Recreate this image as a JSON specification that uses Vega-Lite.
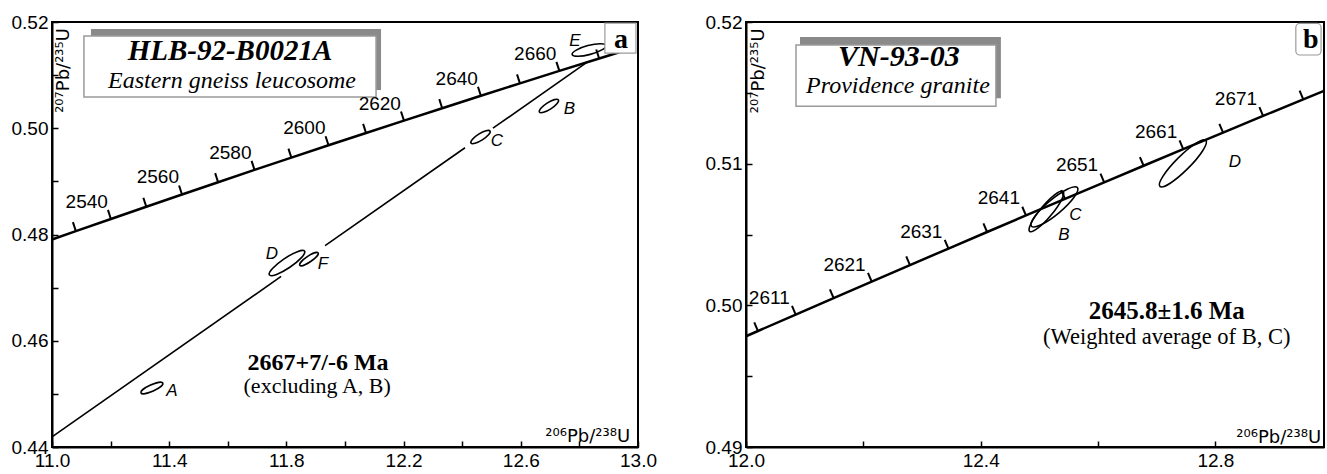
{
  "$schema": "https://vega.github.io/schema/vega-lite/v6.json",
  "background": "white",
  "padding": {"left": 10, "top": 12, "right": 0, "bottom": 0},
  "spacing": 46,
  "config": {
    "view": {"stroke": "black", "strokeWidth": 2},
    "axis": {
      "domainColor": "black", "domainWidth": 2,
      "tickColor": "black", "tickWidth": 1.5, "tickSize": -6,
      "labelFont": "Liberation Sans", "labelFontSize": 19, "labelColor": "black",
      "labelPadding": 10, "grid": false
    }
  },
  "datasets": {
    "conc_a": [
      {"t": 2523.1, "x": 11.0, "y": 0.479052, "tick": false, "lab": ""},
      {"t": 2530, "x": 11.0814, "y": 0.480628, "tick": true, "lab": ""},
      {"t": 2540, "x": 11.2010, "y": 0.482926, "tick": true, "lab": "2540"},
      {"t": 2550, "x": 11.3218, "y": 0.485229, "tick": true, "lab": ""},
      {"t": 2560, "x": 11.4437, "y": 0.487534, "tick": true, "lab": "2560"},
      {"t": 2570, "x": 11.5669, "y": 0.489844, "tick": true, "lab": ""},
      {"t": 2580, "x": 11.6912, "y": 0.492157, "tick": true, "lab": "2580"},
      {"t": 2590, "x": 11.8169, "y": 0.494473, "tick": true, "lab": ""},
      {"t": 2600, "x": 11.9437, "y": 0.496793, "tick": true, "lab": "2600"},
      {"t": 2610, "x": 12.0718, "y": 0.499117, "tick": true, "lab": ""},
      {"t": 2620, "x": 12.2012, "y": 0.501444, "tick": true, "lab": "2620"},
      {"t": 2630, "x": 12.3318, "y": 0.503775, "tick": true, "lab": ""},
      {"t": 2640, "x": 12.4638, "y": 0.506110, "tick": true, "lab": "2640"},
      {"t": 2650, "x": 12.5971, "y": 0.508448, "tick": true, "lab": ""},
      {"t": 2660, "x": 12.7316, "y": 0.510790, "tick": true, "lab": "2660"},
      {"t": 2670, "x": 12.8675, "y": 0.513135, "tick": true, "lab": ""},
      {"t": 2675, "x": 12.9360, "y": 0.514309, "tick": false, "lab": ""}
    ],
    "conc_b": [
      {"t": 2604.4, "x": 12.0, "y": 0.497817, "tick": false, "lab": ""},
      {"t": 2606, "x": 12.0204, "y": 0.498187, "tick": true, "lab": ""},
      {"t": 2611, "x": 12.0847, "y": 0.499350, "tick": true, "lab": "2611"},
      {"t": 2616, "x": 12.1493, "y": 0.500513, "tick": true, "lab": ""},
      {"t": 2621, "x": 12.2142, "y": 0.501677, "tick": true, "lab": "2621"},
      {"t": 2626, "x": 12.2794, "y": 0.502842, "tick": true, "lab": ""},
      {"t": 2631, "x": 12.3450, "y": 0.504009, "tick": true, "lab": "2631"},
      {"t": 2636, "x": 12.4109, "y": 0.505176, "tick": true, "lab": ""},
      {"t": 2641, "x": 12.4771, "y": 0.506343, "tick": true, "lab": "2641"},
      {"t": 2646, "x": 12.5436, "y": 0.507512, "tick": true, "lab": ""},
      {"t": 2651, "x": 12.6104, "y": 0.508682, "tick": true, "lab": "2651"},
      {"t": 2656, "x": 12.6776, "y": 0.509853, "tick": true, "lab": ""},
      {"t": 2661, "x": 12.7451, "y": 0.511024, "tick": true, "lab": "2661"},
      {"t": 2666, "x": 12.8130, "y": 0.512197, "tick": true, "lab": ""},
      {"t": 2671, "x": 12.8812, "y": 0.513370, "tick": true, "lab": "2671"},
      {"t": 2676, "x": 12.9497, "y": 0.514544, "tick": true, "lab": ""},
      {"t": 2678.56, "x": 12.985, "y": 0.515144, "tick": false, "lab": ""}
    ],
    "disc_a": [
      {"seg": 1, "x": 11.0, "y": 0.44190},
      {"seg": 1, "x": 11.782, "y": 0.47210},
      {"seg": 2, "x": 11.932, "y": 0.47789},
      {"seg": 2, "x": 12.4096, "y": 0.49633},
      {"seg": 3, "x": 12.505, "y": 0.50001},
      {"seg": 3, "x": 12.8266, "y": 0.512431}
    ],
    "ell_a": [
      {"id": "A", "x": 11.341, "y": 0.4511},
      {"id": "B", "x": 12.696, "y": 0.50419},
      {"id": "C", "x": 12.4625, "y": 0.49835},
      {"id": "D", "x": 11.802, "y": 0.47463},
      {"id": "E", "x": 12.833, "y": 0.51473},
      {"id": "F", "x": 11.877, "y": 0.47538}
    ],
    "ell_b": [
      {"id": "B", "x": 12.5119, "y": 0.50663},
      {"id": "C", "x": 12.5256, "y": 0.50695},
      {"id": "D", "x": 12.7445, "y": 0.51002}
    ],
    "elab_a": [
      {"text": "A", "x": 11.4096, "y": 0.45053},
      {"text": "B", "x": 12.766, "y": 0.50353},
      {"text": "C", "x": 12.5188, "y": 0.49769},
      {"text": "D", "x": 11.7509, "y": 0.47633},
      {"text": "E", "x": 12.785, "y": 0.51642},
      {"text": "F", "x": 11.925, "y": 0.47444}
    ],
    "elab_b": [
      {"text": "B", "x": 12.5417, "y": 0.50500},
      {"text": "C", "x": 12.5613, "y": 0.50638},
      {"text": "D", "x": 12.833, "y": 0.51013}
    ],
    "box_a": [
      {"role": "shadow", "x": 11.133, "x2": 12.123, "y": 0.51868, "y2": 0.50720},
      {"role": "box", "x": 11.109, "x2": 12.106, "y": 0.51736, "y2": 0.50588},
      {"role": "panel", "x": 12.887, "x2": 12.993, "y": 0.5198, "y2": 0.51416}
    ],
    "box_b": [
      {"role": "shadow", "x": 12.0920, "x2": 12.4344, "y": 0.51894, "y2": 0.51462},
      {"role": "box", "x": 12.0852, "x2": 12.4259, "y": 0.51837, "y2": 0.51406},
      {"role": "panel", "x": 12.937, "x2": 12.980, "y": 0.5199, "y2": 0.51767}
    ],
    "txt_a": [
      {"role": "title", "text": "HLB-92-B0021A", "x": 11.6075, "y": 0.51285},
      {"role": "subtitle", "text": "Eastern gneiss leucosome", "x": 11.6143, "y": 0.50758},
      {"role": "age", "text": "2667+7/-6 Ma", "x": 11.908, "y": 0.45449},
      {"role": "note", "text": "(excluding A, B)", "x": 11.905, "y": 0.45016},
      {"role": "panel", "text": "a", "x": 12.942, "y": 0.51511},
      {"role": "ylab", "text": "²⁰⁷Pb/²³⁵U", "x": 11.01, "y": 0.5029},
      {"role": "xlab", "text": "²⁰⁶Pb/²³⁸U", "x": 12.973, "y": 0.4410}
    ],
    "txt_b": [
      {"role": "title", "text": "VN-93-03", "x": 12.2606, "y": 0.51689},
      {"role": "subtitle", "text": "Providence granite", "x": 12.2589, "y": 0.51498},
      {"role": "age", "text": "2645.8±1.6 Ma", "x": 12.717, "y": 0.49906},
      {"role": "note", "text": "(Weighted average of B, C)", "x": 12.717, "y": 0.49729},
      {"role": "panel", "text": "b", "x": 12.9625, "y": 0.51816},
      {"role": "ylab", "text": "²⁰⁷Pb/²³⁵U", "x": 12.0068, "y": 0.51356},
      {"role": "xlab", "text": "²⁰⁶Pb/²³⁸U", "x": 12.98, "y": 0.49028}
    ]
  },
  "hconcat": [
    {
      "width": 586,
      "height": 425,
      "encoding": {
        "x": {"field": "x", "type": "quantitative",
          "scale": {"domain": [11, 13], "nice": false, "zero": false},
          "axis": {"title": null, "values": [11, 11.2, 11.4, 11.6, 11.8, 12, 12.2, 12.4, 12.6, 12.8, 13],
            "labelExpr": "round(datum.value*5) % 2 == 1 ? format(datum.value, '.1f') : ''",
            "labelFlush": false, "labelOverlap": false}},
        "y": {"field": "y", "type": "quantitative",
          "scale": {"domain": [0.44, 0.52], "nice": false, "zero": false},
          "axis": {"title": null, "values": [0.44, 0.45, 0.46, 0.47, 0.48, 0.49, 0.5, 0.51, 0.52],
            "labelExpr": "round(datum.value*100) % 2 == 0 ? format(datum.value, '.2f') : ''",
            "labelFlush": false, "labelOverlap": false}}
      },
      "layer": [
        {"data": {"name": "box_a"}, "transform": [{"filter": "datum.role == 'shadow'"}],
         "mark": {"type": "rect", "fill": "#8a8a8a"},
         "encoding": {"x2": {"field": "x2"}, "y2": {"field": "y2"}}},
        {"data": {"name": "box_a"}, "transform": [{"filter": "datum.role == 'box'"}],
         "mark": {"type": "rect", "fill": "white", "stroke": "#9a9a9a", "strokeWidth": 1.5},
         "encoding": {"x2": {"field": "x2"}, "y2": {"field": "y2"}}},
        {"data": {"name": "txt_a"}, "transform": [{"filter": "datum.role == 'title'"}],
         "mark": {"type": "text", "font": "Liberation Serif", "fontSize": 29, "fontStyle": "italic", "fontWeight": "bold", "align": "center", "baseline": "alphabetic", "color": "black"},
         "encoding": {"text": {"field": "text"}}},
        {"data": {"name": "txt_a"}, "transform": [{"filter": "datum.role == 'subtitle'"}],
         "mark": {"type": "text", "font": "Liberation Serif", "fontSize": 24, "fontStyle": "italic", "align": "center", "baseline": "alphabetic", "color": "black"},
         "encoding": {"text": {"field": "text"}}},
        {"data": {"name": "conc_a"},
         "mark": {"type": "line", "color": "black", "strokeWidth": 2.5},
         "encoding": {"order": {"field": "t", "type": "quantitative"}}},
        {"data": {"name": "disc_a"},
         "mark": {"type": "line", "color": "black", "strokeWidth": 1.6},
         "encoding": {"detail": {"field": "seg", "type": "nominal"}}},
        {"data": {"name": "conc_a"}, "transform": [{"filter": "datum.tick"}],
         "mark": {"type": "point", "shape": "M0,0L0,-2", "size": 90, "angle": 342, "filled": false, "stroke": "black", "strokeWidth": 2, "opacity": 1}},
        {"data": {"name": "conc_a"}, "transform": [{"filter": "datum.lab != ''"}],
         "mark": {"type": "text", "font": "Liberation Sans", "fontSize": 19, "align": "right", "baseline": "alphabetic", "dx": -3, "dy": -11, "color": "black"},
         "encoding": {"text": {"field": "lab"}}},
        {"data": {"name": "ell_a"}, "transform": [{"filter": "datum.id == 'A'"}],
         "mark": {"type": "point", "shape": "M-1,0A1,0.27,0,1,1,1,0A1,0.27,0,1,1,-1,0Z", "size": 576, "angle": 336, "filled": false, "stroke": "black", "strokeWidth": 1.6, "opacity": 1}},
        {"data": {"name": "ell_a"}, "transform": [{"filter": "datum.id == 'B'"}],
         "mark": {"type": "point", "shape": "M-1,0A1,0.3,0,1,1,1,0A1,0.3,0,1,1,-1,0Z", "size": 510, "angle": 327, "filled": false, "stroke": "black", "strokeWidth": 1.6, "opacity": 1}},
        {"data": {"name": "ell_a"}, "transform": [{"filter": "datum.id == 'C'"}],
         "mark": {"type": "point", "shape": "M-1,0A1,0.3,0,1,1,1,0A1,0.3,0,1,1,-1,0Z", "size": 506, "angle": 328, "filled": false, "stroke": "black", "strokeWidth": 1.6, "opacity": 1}},
        {"data": {"name": "ell_a"}, "transform": [{"filter": "datum.id == 'D'"}],
         "mark": {"type": "point", "shape": "M-1,0A1,0.24,0,1,1,1,0A1,0.24,0,1,1,-1,0Z", "size": 1806, "angle": 326, "filled": false, "stroke": "black", "strokeWidth": 1.6, "opacity": 1}},
        {"data": {"name": "ell_a"}, "transform": [{"filter": "datum.id == 'E'"}],
         "mark": {"type": "point", "shape": "M-1,0A1,0.26,0,1,1,1,0A1,0.26,0,1,1,-1,0Z", "size": 1225, "angle": 345, "filled": false, "stroke": "black", "strokeWidth": 1.6, "opacity": 1}},
        {"data": {"name": "ell_a"}, "transform": [{"filter": "datum.id == 'F'"}],
         "mark": {"type": "point", "shape": "M-1,0A1,0.27,0,1,1,1,0A1,0.27,0,1,1,-1,0Z", "size": 484, "angle": 326, "filled": false, "stroke": "black", "strokeWidth": 1.6, "opacity": 1}},
        {"data": {"name": "elab_a"},
         "mark": {"type": "text", "font": "Liberation Sans", "fontSize": 17, "fontStyle": "italic", "align": "center", "baseline": "middle", "color": "black"},
         "encoding": {"text": {"field": "text"}}},
        {"data": {"name": "txt_a"}, "transform": [{"filter": "datum.role == 'age'"}],
         "mark": {"type": "text", "font": "Liberation Serif", "fontSize": 24, "fontWeight": "bold", "align": "center", "baseline": "alphabetic", "color": "black"},
         "encoding": {"text": {"field": "text"}}},
        {"data": {"name": "txt_a"}, "transform": [{"filter": "datum.role == 'note'"}],
         "mark": {"type": "text", "font": "Liberation Serif", "fontSize": 22, "align": "center", "baseline": "alphabetic", "color": "black"},
         "encoding": {"text": {"field": "text"}}},
        {"data": {"name": "txt_a"}, "transform": [{"filter": "datum.role == 'ylab'"}],
         "mark": {"type": "text", "font": "DejaVu Sans", "fontSize": 18, "angle": 270, "align": "left", "baseline": "top", "color": "black"},
         "encoding": {"text": {"field": "text"}}},
        {"data": {"name": "txt_a"}, "transform": [{"filter": "datum.role == 'xlab'"}],
         "mark": {"type": "text", "font": "DejaVu Sans", "fontSize": 18, "align": "right", "baseline": "alphabetic", "color": "black"},
         "encoding": {"text": {"field": "text"}}},
        {"data": {"name": "box_a"}, "transform": [{"filter": "datum.role == 'panel'"}],
         "mark": {"type": "rect", "fill": "white", "stroke": "#9a9a9a", "strokeWidth": 1.2},
         "encoding": {"x2": {"field": "x2"}, "y2": {"field": "y2"}}},
        {"data": {"name": "txt_a"}, "transform": [{"filter": "datum.role == 'panel'"}],
         "mark": {"type": "text", "font": "Liberation Serif", "fontSize": 28, "fontWeight": "bold", "align": "center", "baseline": "alphabetic", "color": "black"},
         "encoding": {"text": {"field": "text"}}}
      ]
    },
    {
      "width": 578,
      "height": 425,
      "encoding": {
        "x": {"field": "x", "type": "quantitative",
          "scale": {"domain": [12, 12.985], "nice": false, "zero": false},
          "axis": {"title": null, "values": [12, 12.2, 12.4, 12.6, 12.8],
            "labelExpr": "round(datum.value*5) % 2 == 0 ? format(datum.value, '.1f') : ''",
            "labelFlush": false, "labelOverlap": false}},
        "y": {"field": "y", "type": "quantitative",
          "scale": {"domain": [0.49, 0.52], "nice": false, "zero": false},
          "axis": {"title": null, "values": [0.49, 0.495, 0.5, 0.505, 0.51, 0.515, 0.52],
            "labelExpr": "round(datum.value*200) % 2 == 0 ? format(datum.value, '.2f') : ''",
            "labelFlush": false, "labelOverlap": false}}
      },
      "layer": [
        {"data": {"name": "box_b"}, "transform": [{"filter": "datum.role == 'shadow'"}],
         "mark": {"type": "rect", "fill": "#8a8a8a"},
         "encoding": {"x2": {"field": "x2"}, "y2": {"field": "y2"}}},
        {"data": {"name": "box_b"}, "transform": [{"filter": "datum.role == 'box'"}],
         "mark": {"type": "rect", "fill": "white", "stroke": "#9a9a9a", "strokeWidth": 1.5},
         "encoding": {"x2": {"field": "x2"}, "y2": {"field": "y2"}}},
        {"data": {"name": "txt_b"}, "transform": [{"filter": "datum.role == 'title'"}],
         "mark": {"type": "text", "font": "Liberation Serif", "fontSize": 30, "fontStyle": "italic", "fontWeight": "bold", "align": "center", "baseline": "alphabetic", "color": "black"},
         "encoding": {"text": {"field": "text"}}},
        {"data": {"name": "txt_b"}, "transform": [{"filter": "datum.role == 'subtitle'"}],
         "mark": {"type": "text", "font": "Liberation Serif", "fontSize": 24, "fontStyle": "italic", "align": "center", "baseline": "alphabetic", "color": "black"},
         "encoding": {"text": {"field": "text"}}},
        {"data": {"name": "conc_b"},
         "mark": {"type": "line", "color": "black", "strokeWidth": 2.5},
         "encoding": {"order": {"field": "t", "type": "quantitative"}}},
        {"data": {"name": "conc_b"}, "transform": [{"filter": "datum.tick"}],
         "mark": {"type": "point", "shape": "M0,0L0,-2", "size": 90, "angle": 337, "filled": false, "stroke": "black", "strokeWidth": 2, "opacity": 1}},
        {"data": {"name": "conc_b"}, "transform": [{"filter": "datum.lab != ''"}],
         "mark": {"type": "text", "font": "Liberation Sans", "fontSize": 19, "align": "right", "baseline": "alphabetic", "dx": -6, "dy": -11, "color": "black"},
         "encoding": {"text": {"field": "lab"}}},
        {"data": {"name": "ell_b"}, "transform": [{"filter": "datum.id == 'B'"}],
         "mark": {"type": "point", "shape": "M-1,0A1,0.23,0,1,1,1,0A1,0.23,0,1,1,-1,0Z", "size": 2704, "angle": 310, "filled": false, "stroke": "black", "strokeWidth": 1.6, "opacity": 1}},
        {"data": {"name": "ell_b"}, "transform": [{"filter": "datum.id == 'C'"}],
         "mark": {"type": "point", "shape": "M-1,0A1,0.25,0,1,1,1,0A1,0.25,0,1,1,-1,0Z", "size": 3600, "angle": 320, "filled": false, "stroke": "black", "strokeWidth": 1.6, "opacity": 1}},
        {"data": {"name": "ell_b"}, "transform": [{"filter": "datum.id == 'D'"}],
         "mark": {"type": "point", "shape": "M-1,0A1,0.22,0,1,1,1,0A1,0.22,0,1,1,-1,0Z", "size": 4225, "angle": 315, "filled": false, "stroke": "black", "strokeWidth": 1.6, "opacity": 1}},
        {"data": {"name": "elab_b"},
         "mark": {"type": "text", "font": "Liberation Sans", "fontSize": 17, "fontStyle": "italic", "align": "center", "baseline": "middle", "color": "black"},
         "encoding": {"text": {"field": "text"}}},
        {"data": {"name": "txt_b"}, "transform": [{"filter": "datum.role == 'age'"}],
         "mark": {"type": "text", "font": "Liberation Serif", "fontSize": 25, "fontWeight": "bold", "align": "center", "baseline": "alphabetic", "color": "black"},
         "encoding": {"text": {"field": "text"}}},
        {"data": {"name": "txt_b"}, "transform": [{"filter": "datum.role == 'note'"}],
         "mark": {"type": "text", "font": "Liberation Serif", "fontSize": 22.5, "align": "center", "baseline": "alphabetic", "color": "black"},
         "encoding": {"text": {"field": "text"}}},
        {"data": {"name": "txt_b"}, "transform": [{"filter": "datum.role == 'ylab'"}],
         "mark": {"type": "text", "font": "DejaVu Sans", "fontSize": 18, "angle": 270, "align": "left", "baseline": "top", "color": "black"},
         "encoding": {"text": {"field": "text"}}},
        {"data": {"name": "txt_b"}, "transform": [{"filter": "datum.role == 'xlab'"}],
         "mark": {"type": "text", "font": "DejaVu Sans", "fontSize": 18, "align": "right", "baseline": "alphabetic", "color": "black"},
         "encoding": {"text": {"field": "text"}}},
        {"data": {"name": "box_b"}, "transform": [{"filter": "datum.role == 'panel'"}],
         "mark": {"type": "rect", "fill": "white", "stroke": "#9a9a9a", "strokeWidth": 1.2, "cornerRadius": 4},
         "encoding": {"x2": {"field": "x2"}, "y2": {"field": "y2"}}},
        {"data": {"name": "txt_b"}, "transform": [{"filter": "datum.role == 'panel'"}],
         "mark": {"type": "text", "font": "Liberation Serif", "fontSize": 28, "fontWeight": "bold", "align": "center", "baseline": "alphabetic", "color": "black"},
         "encoding": {"text": {"field": "text"}}}
      ]
    }
  ]
}
